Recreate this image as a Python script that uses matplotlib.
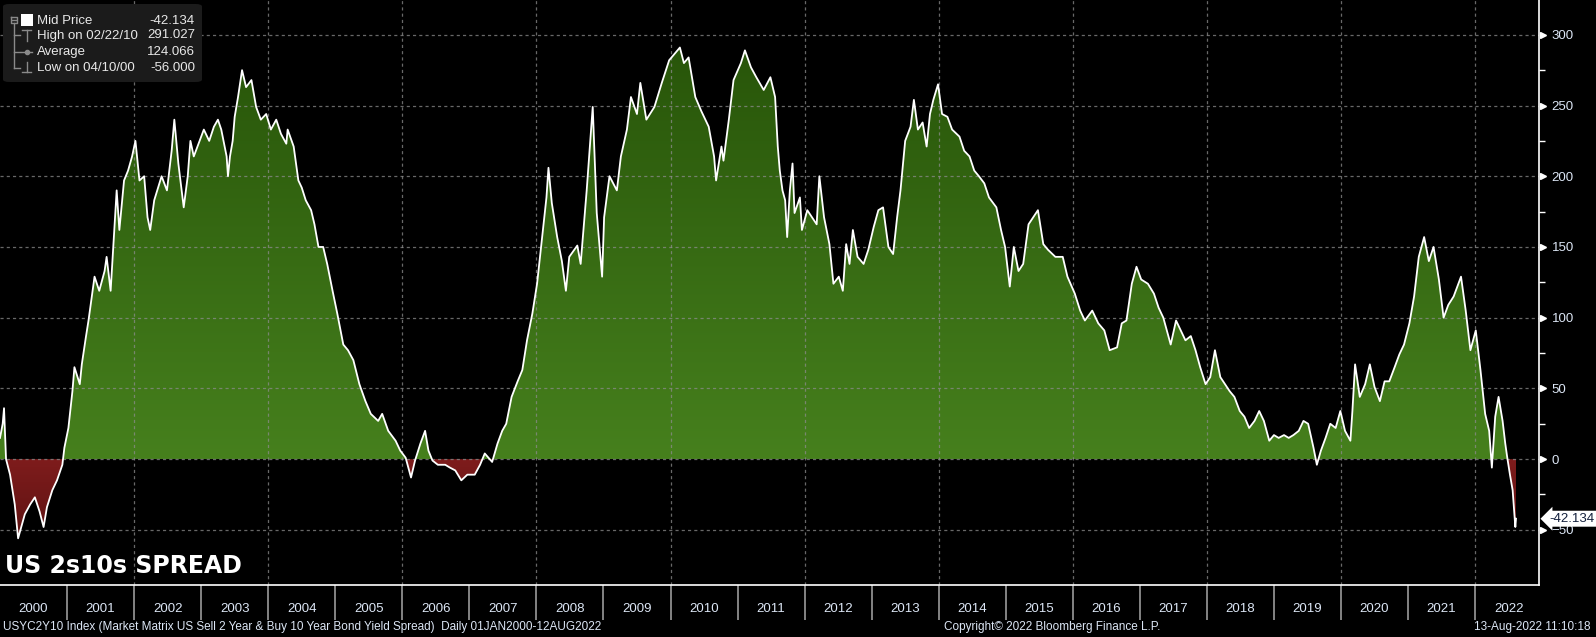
import numpy as np
import matplotlib.pyplot as plt
import matplotlib.transforms as mtransforms
from matplotlib.colors import LinearSegmentedColormap
from matplotlib.path import Path
from matplotlib.patches import FancyBboxPatch
from matplotlib.lines import Line2D

plt.rcParams['font.family'] = ['Liberation Sans', 'DejaVu Sans']

# US 2s10s spread (bp), 2000 - 2011
yrs_a = [2000.00, 2000.04, 2000.06, 2000.09, 2000.15, 2000.22, 2000.27, 2000.37, 2000.45, 2000.52,
         2000.59, 2000.65, 2000.70, 2000.78, 2000.85, 2000.93, 2000.96, 2001.02, 2001.08, 2001.11,
         2001.19, 2001.22, 2001.28, 2001.32, 2001.37, 2001.41, 2001.48, 2001.56, 2001.59, 2001.65,
         2001.69, 2001.74, 2001.78, 2001.85, 2001.91, 2001.97, 2002.02, 2002.08, 2002.15, 2002.20,
         2002.24, 2002.30, 2002.41, 2002.49, 2002.56, 2002.60, 2002.66, 2002.74, 2002.80, 2002.84,
         2002.89, 2003.04, 2003.12, 2003.19, 2003.25, 2003.30, 2003.38, 2003.40, 2003.43, 2003.47,
         2003.50, 2003.55, 2003.61, 2003.67, 2003.75, 2003.82, 2003.89, 2003.97, 2004.04, 2004.12,
         2004.19, 2004.27, 2004.29, 2004.38, 2004.45, 2004.50, 2004.56, 2004.64, 2004.69, 2004.75,
         2004.82, 2004.88, 2004.96, 2005.03, 2005.12, 2005.19, 2005.27, 2005.36, 2005.45, 2005.53,
         2005.64, 2005.70, 2005.79, 2005.90, 2005.97, 2006.05, 2006.13, 2006.19, 2006.27, 2006.34,
         2006.39, 2006.45, 2006.53, 2006.64, 2006.71, 2006.79, 2006.88, 2006.97, 2007.08, 2007.16,
         2007.23, 2007.34, 2007.42, 2007.49, 2007.55, 2007.63, 2007.72, 2007.79, 2007.86, 2007.94,
         2008.01, 2008.07, 2008.15, 2008.18, 2008.23, 2008.31, 2008.38, 2008.44, 2008.49, 2008.61,
         2008.66, 2008.75, 2008.84, 2008.90, 2008.98, 2009.01, 2009.09, 2009.20, 2009.26, 2009.35,
         2009.41, 2009.50, 2009.55, 2009.64, 2009.76, 2009.87, 2009.98, 2010.14, 2010.20, 2010.27,
         2010.37, 2010.46, 2010.57, 2010.65, 2010.68, 2010.76, 2010.79, 2010.87, 2010.94, 2011.05,
         2011.11, 2011.20, 2011.28, 2011.39]
vals_a = [15, 25, 36, 0, -11, -32, -56, -39, -32, -27,
          -37, -48, -34, -22, -15, -4, 8, 22, 48, 65,
          53, 67, 86, 98, 115, 129, 119, 133, 143, 119,
          150, 190, 162, 197, 204, 214, 225, 197, 200, 171,
          162, 183, 200, 190, 218, 240, 209, 178, 200, 225,
          214, 233, 225, 235, 240, 233, 214, 200, 214, 225,
          242, 256, 275, 263, 268, 249, 240, 244, 233, 240,
          230, 223, 233, 221, 197, 192, 183, 176, 166, 150,
          150, 138, 119, 103, 81, 77, 70, 53, 41, 32,
          27, 32, 20, 13, 6, 1, -13, -1, 11, 20,
          6, -1, -4, -4, -6, -8, -15, -11, -11, -4,
          4, -2, 11, 20, 25, 44, 55, 63, 84, 103,
          124, 150, 185, 206, 181, 157, 140, 119, 143, 151,
          138, 190, 249, 174, 129, 171, 200, 190, 214, 233,
          256, 244, 266, 240, 249, 266, 282, 291, 280, 284,
          256, 246, 235, 214, 197, 221, 211, 240, 268, 280,
          289, 277, 270, 261]

# 2011 - Aug 2022
yrs_b = [2011.49, 2011.56, 2011.60, 2011.63, 2011.67, 2011.71, 2011.74, 2011.78, 2011.82, 2011.85,
         2011.93, 2011.96, 2012.04, 2012.11, 2012.18, 2012.22, 2012.29, 2012.37, 2012.43, 2012.51,
         2012.57, 2012.62, 2012.67, 2012.72, 2012.79, 2012.88, 2012.95, 2013.03, 2013.10, 2013.17,
         2013.25, 2013.32, 2013.38, 2013.43, 2013.50, 2013.58, 2013.63, 2013.69, 2013.76, 2013.82,
         2013.87, 2013.92, 2013.99, 2014.05, 2014.13, 2014.20, 2014.31, 2014.38, 2014.46, 2014.53,
         2014.60, 2014.68, 2014.75, 2014.86, 2014.93, 2014.99, 2015.06, 2015.12, 2015.19, 2015.26,
         2015.34, 2015.41, 2015.48, 2015.56, 2015.63, 2015.74, 2015.85, 2015.92, 2016.03, 2016.11,
         2016.18, 2016.29, 2016.38, 2016.47, 2016.55, 2016.66, 2016.73, 2016.80, 2016.88, 2016.95,
         2017.02, 2017.12, 2017.21, 2017.28, 2017.35, 2017.46, 2017.54, 2017.61, 2017.68, 2017.76,
         2017.83, 2017.90, 2017.98, 2018.05, 2018.12, 2018.20, 2018.27, 2018.34, 2018.41, 2018.49,
         2018.56, 2018.63, 2018.71, 2018.78, 2018.85, 2018.93, 2019.00, 2019.07, 2019.15, 2019.22,
         2019.29, 2019.37, 2019.44, 2019.51, 2019.59, 2019.64, 2019.70, 2019.77, 2019.84, 2019.92,
         2019.99, 2020.06, 2020.14, 2020.17, 2020.21, 2020.28, 2020.36, 2020.43, 2020.50, 2020.58,
         2020.65, 2020.72, 2020.80, 2020.87, 2020.94, 2021.02, 2021.09, 2021.16, 2021.24, 2021.31,
         2021.38, 2021.46, 2021.53, 2021.60, 2021.68, 2021.75, 2021.79, 2021.86, 2021.93, 2022.01,
         2022.08, 2022.15, 2022.21, 2022.25, 2022.30, 2022.35, 2022.41, 2022.45, 2022.48, 2022.52,
         2022.56, 2022.59, 2022.60, 2022.61]
vals_b = [270, 256, 221, 204, 190, 183, 157, 190, 209, 174,
          185, 162, 176, 171, 166, 200, 171, 152, 124, 129,
          119, 152, 138, 162, 143, 138, 148, 164, 176, 178,
          150, 145, 171, 190, 225, 235, 254, 233, 238, 221,
          244, 254, 265, 244, 242, 233, 228, 218, 214, 204,
          200, 195, 185, 178, 162, 150, 122, 150, 133, 138,
          166, 171, 176, 152, 148, 143, 143, 129, 117, 105,
          98, 105, 96, 91, 77, 79, 96, 98, 124, 136,
          127, 124, 117, 107, 100, 81, 98, 91, 84, 87,
          77, 65, 53, 58, 77, 58, 53, 48, 44, 34,
          30, 22, 27, 34, 27, 13, 17, 15, 17, 15,
          17, 20, 27, 25, 8, -4, 6, 15, 25, 22,
          34, 20, 13, 34, 67, 44, 53, 67, 51, 41,
          55, 55, 65, 74, 81, 96, 115, 143, 157, 140,
          150, 127, 100, 109, 115, 124, 129, 105, 77, 91,
          63, 32, 20, -6, 30, 44, 27, 11, 1, -11,
          -22, -41, -48, -42.134]

year_labels = [str(y) for y in range(2000, 2023)]
legend_labels = ['Mid Price', 'High on 02/22/10', 'Average', 'Low on 04/10/00']
legend_values = ['-42.134', '291.027', '124.066', '-56.000']
last_value = -42.134

W, H = 1596, 637
def fx(px):
    return px / W
def fy(py):
    return 1 - py / H

x = np.array(yrs_a + yrs_b)
y = np.array(vals_a + vals_b, dtype=float)

fig = plt.figure(figsize=(W / 100, H / 100), dpi=100, facecolor='black')
ax = fig.add_axes([0, fy(585), fx(1539), 585 / H])
ax.set_facecolor('black')

pos = ax.fill_between(x, y, 0, where=y >= 0, interpolate=True, facecolor='none', edgecolor='none')
neg = ax.fill_between(x, y, 0, where=y <= 0, interpolate=True, facecolor='none', edgecolor='none')

def gradient(coll, c_low, c_high, y0, y1):
    cmap = LinearSegmentedColormap.from_list('grad', [c_low, c_high])
    im = ax.imshow(np.linspace(0, 1, 256).reshape(-1, 1), cmap=cmap, extent=(2000, 2023, y0, y1),
                   origin='lower', aspect='auto', zorder=1, interpolation='bilinear')
    im.set_clip_path(Path.make_compound_path(*coll.get_paths()), ax.transData)

gradient(pos, '#46801d', '#275409', 0, 300)
gradient(neg, '#5c1111', '#7e1c1c', -60, 0)

for v in range(-50, 301, 50):
    ax.axhline(v, color='#8c8c8c', lw=0.9, ls=(0, (2.5, 2.5)), alpha=0.75, zorder=2)
for yr in range(2002, 2023, 2):
    ax.axvline(yr, color='#8c8c8c', lw=0.9, ls=(0, (2.5, 2.5)), alpha=0.75, zorder=2)

ax.plot(x, y, color='white', lw=1.3, zorder=3)

ax.set_xlim(2000, 2000 + 1539 / 67.05)
ax.set_ylim(-89, 324.6)

# right axis
ax.yaxis.tick_right()
ax.set_yticks(range(-50, 301, 50))
ax.set_yticks(range(-25, 301, 50), minor=True)
ax.tick_params(axis='y', which='major', length=0, pad=9, labelsize=9.5, labelcolor='#dce6f5')
ax.tick_params(axis='y', which='minor', length=4, width=1, color='white')
tri = mtransforms.blended_transform_factory(ax.transAxes, ax.transData) + \
    mtransforms.ScaledTranslation(4 / 100, 0, fig.dpi_scale_trans)
ax.plot([1.0] * 8, list(range(-50, 301, 50)), '>', ms=5, color='white', transform=tri, clip_on=False)

# year axis
ax.set_xticks(range(2001, 2023))
ax.set_xticklabels([])
ax.set_xticks([y0 + 0.5 for y0 in range(2000, 2023)], minor=True)
ax.set_xticklabels(year_labels, minor=True)
ax.tick_params(axis='x', which='major', length=25, width=1.2, color='#9a9a9a')
ax.tick_params(axis='x', which='minor', length=0, pad=13, labelsize=9.5, labelcolor='#dce6f5')

for s in ['top', 'left']:
    ax.spines[s].set_visible(False)
for s in ['right', 'bottom']:
    ax.spines[s].set_color('white')
    ax.spines[s].set_linewidth(1.2)

# last value tag
tag = mtransforms.blended_transform_factory(ax.transAxes, ax.transData) + \
    mtransforms.ScaledTranslation(10 / 100, 0, fig.dpi_scale_trans)
ax.text(1.0, last_value, '%.3f' % last_value, transform=tag, ha='left', va='center', fontsize=9.5,
        color='#14213d', zorder=6, clip_on=False,
        bbox=dict(boxstyle='larrow,pad=0.15', fc='white', ec='none'))

# legend box
fig.patches.append(FancyBboxPatch((fx(3), fy(82)), fx(199), 78 / H, boxstyle='round,pad=0,rounding_size=0.004',
                                  transform=fig.transFigure, facecolor='#1b1b1b', edgecolor='none', zorder=10))
gray = '#8a8a8a'
def seg(xs, ys, **kw):
    fig.add_artist(Line2D([fx(v) for v in xs], [fy(v) for v in ys], color=gray, lw=1, zorder=11, **kw))
seg([11, 17, 17, 11, 11], [17, 17, 23, 23, 17])
seg([12, 16], [20, 20])
seg([14, 14], [23, 68])
seg([14, 20], [35, 35])
seg([14, 20], [52, 52])
seg([14, 20], [68, 68])
seg([22, 31], [30, 30])
seg([26.5, 26.5], [30, 41])
seg([21, 32], [52, 52])
fig.add_artist(Line2D([fx(26.5)], [fy(52)], marker='o', ms=3, color=gray, zorder=11))
seg([26.5, 26.5], [62, 72])
seg([22, 31], [72, 72])
fig.patches.append(FancyBboxPatch((fx(21), fy(26)), fx(12), 12 / H, boxstyle='square,pad=0',
                                  transform=fig.transFigure, facecolor='white', edgecolor='none', zorder=11))
for i, (lab, val) in enumerate(zip(legend_labels, legend_values)):
    yy = fy([20.5, 35.5, 52, 68][i])
    fig.text(fx(37), yy, lab, fontsize=9.5, color='#e8e8e8', va='center', zorder=12)
    fig.text(fx(195), yy, val, fontsize=9.5, color='#e8e8e8', va='center', ha='right', zorder=12)

# title and footer
fig.text(fx(5), fy(566), 'US 2s10s SPREAD', fontsize=17, fontweight='bold', color='white',
         va='center', family='DejaVu Sans')
foot = '#dce6f5'
fig.text(fx(3), fy(627), 'USYC2Y10 Index (Market Matrix US Sell 2 Year & Buy 10 Year Bond Yield Spread)  '
         'Daily 01JAN2000-12AUG2022', fontsize=8.5, color=foot, va='center')
fig.text(fx(944), fy(627), 'Copyright\u00a9 2022 Bloomberg Finance L.P.', fontsize=8.5, color=foot, va='center')
fig.text(fx(1591), fy(627), '13-Aug-2022 11:10:18', fontsize=8.5, color=foot, va='center', ha='right')

fig.savefig('out.png', dpi=100, facecolor='black')
